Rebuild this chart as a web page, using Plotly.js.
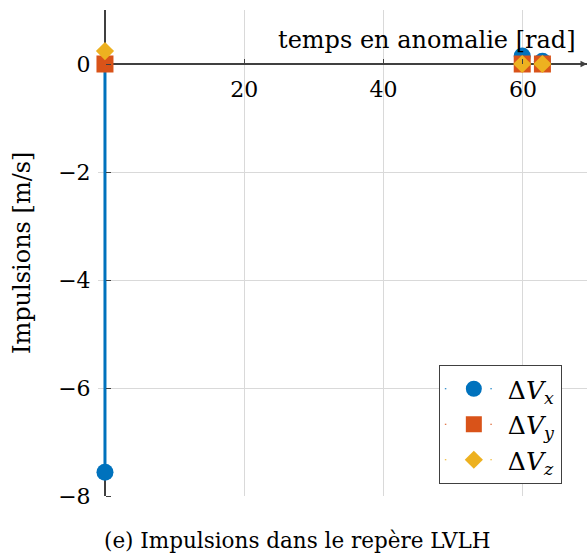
<!DOCTYPE html>
<html><head><meta charset="utf-8">
<script src="https://cdn.plot.ly/plotly-3.0.1.min.js"></script>
<style>body{margin:0;background:#fff;}#chart{width:587px;height:554px;}</style>
</head><body><div id="chart"></div>
<script>
// ---- data ----
const times = [0, 59.9, 62.8];
const dVx = [-7.56, 0.15, 0.05];
const dVy = [0, 0, 0];
const dVz = [0.24, 0, 0];
const seriesNames = ['Δ<i>V</i><sub><i>x</i></sub>', 'Δ<i>V</i><sub><i>y</i></sub>', 'Δ<i>V</i><sub><i>z</i></sub>'];
const xTicks = [20, 40, 60];
const yTicks = [0, -2, -4, -6, -8];
const xTitle = 'temps en anomalie [rad]';
const yTitle = 'Impulsions [m/s]';
const caption = '(e) Impulsions dans le repère LVLH';

// ---- style ----
const colors = ['#0072BD', '#D95319', '#EDB120'];
const symbols = ['circle', 'square', 'diamond'];
const sizes = [17, 17, 14];
const FONT = 'DejaVu Serif';
const xRange = [-1, 69.2];
const yRange = [-8, 1];

function stem(xs, ys) {
  const sx = [], sy = [];
  xs.forEach((x, i) => { sx.push(x, x, null); sy.push(0, ys[i], null); });
  return {sx, sy};
}

const series = [dVx, dVy, dVz];
const traces = [];
series.forEach((vals, k) => {
  const s = stem(times, vals);
  traces.push({x: s.sx, y: s.sy, mode: 'lines', line: {color: colors[k], width: 3},
    showlegend: false, hoverinfo: 'skip', cliponaxis: false});
});
series.forEach((vals, k) => {
  traces.push({x: times, y: vals, mode: 'markers', name: seriesNames[k],
    marker: {color: colors[k], symbol: symbols[k], size: sizes[k], line: {width: 0}},
    showlegend: false, cliponaxis: false});
});
// legend entries
series.forEach((vals, k) => {
  traces.push({x: [null], y: [null], mode: 'lines+markers', name: seriesNames[k],
    line: {color: colors[k], width: 1.2, dash: '1.5px,44px'},
    marker: {color: colors[k], symbol: symbols[k], size: sizes[k], line: {width: 0}}});
});

const x0frac = (0 - xRange[0]) / (xRange[1] - xRange[0]);
const y0frac = (0 - yRange[0]) / (yRange[1] - yRange[0]);

const layout = {
  width: 587, height: 554,
  margin: {l: 98, r: 0, t: 10, b: 58},
  paper_bgcolor: '#fff', plot_bgcolor: '#fff',
  font: {family: FONT, color: '#000', size: 24},
  showlegend: true,
  xaxis: {range: xRange, anchor: 'free', position: y0frac, side: 'bottom',
    tickvals: xTicks, ticktext: xTicks.map(String),
    showgrid: true, gridcolor: '#d9d9d9', gridwidth: 1,
    zeroline: true, zerolinecolor: '#404040', zerolinewidth: 1.5,
    showline: false, ticks: 'inside', ticklen: 5, tickcolor: '#404040',
    ticklabelstandoff: 10,
    tickfont: {family: FONT, size: 22, color: '#000'}, fixedrange: true},
  yaxis: {range: yRange, anchor: 'free', position: x0frac, side: 'left',
    tickvals: yTicks, ticktext: yTicks.map(v => v < 0 ? '\u2212' + Math.abs(v) : String(v)),
    showgrid: true, gridcolor: '#d9d9d9', gridwidth: 1,
    zeroline: true, zerolinecolor: '#404040', zerolinewidth: 1.5,
    showline: false, ticks: 'outside', ticklen: 10, tickcolor: 'rgba(0,0,0,0)',
    minor: {tickvals: yTicks, ticks: 'inside', ticklen: 5, tickcolor: '#404040', showgrid: false},
    tickfont: {family: FONT, size: 22, color: '#000'}, fixedrange: true},
  legend: {x: 0.697, y: 0.2695, xanchor: 'left', yanchor: 'top',
    bgcolor: '#fff', bordercolor: '#404040', borderwidth: 1,
    font: {family: FONT, size: 25, color: '#000'}, itemwidth: 58},
  annotations: [
    {text: xTitle, xref: 'paper', yref: 'y', x: 0.9816, y: 0, xanchor: 'right', yanchor: 'bottom',
      yshift: 8, showarrow: false, font: {family: FONT, size: 24, color: '#000'}},
    {text: '', xref: 'x', yref: 'y', x: xRange[1], y: 0, ax: -10, ay: 0, axref: 'pixel', ayref: 'pixel',
      showarrow: true, arrowhead: 2, arrowsize: 1, arrowwidth: 1.3, arrowcolor: '#404040'},
    {text: yTitle, xref: 'paper', yref: 'paper', x: -0.1554, y: 0.5, textangle: -90,
      xanchor: 'center', yanchor: 'middle', showarrow: false, font: {family: FONT, size: 24, color: '#000'}},
    {text: caption, xref: 'paper', yref: 'paper', x: 0.407, y: -0.1185, xanchor: 'center', yanchor: 'bottom',
      borderpad: 0, showarrow: false, font: {family: FONT, size: 21.5, color: '#000'}}
  ]
};

Plotly.newPlot('chart', traces, layout, {displayModeBar: false, staticPlot: true});
</script>
</body></html>
